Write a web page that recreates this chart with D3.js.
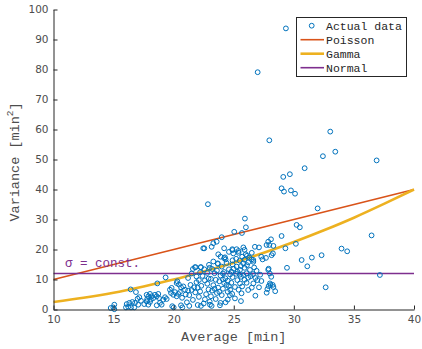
<!DOCTYPE html>
<html>
<head>
<meta charset="utf-8">
<script src="https://cdn.jsdelivr.net/npm/d3@7"></script>
<style>
  body { margin: 0; background: #fff; }
  svg { display: block; }
</style>
</head>
<body>
<figure id="chart" style="margin:0"></figure>
<script>
// observed points: average trip time [min] and its variance [min^2]
const avgMin = [
  33.03, 32.42, 33.45, 36.89, 30.9, 29.67, 29.12, 29.76, 30.1, 28.98, 29.18, 31.98, 30.23, 30.5,
  36.47, 30.17, 33.97, 34.44, 32.31, 31.5, 30.65, 31.12, 37.16, 32.65, 29.34, 26.99, 27.96,
  25.93, 26.01, 25.68, 28.98, 26.76, 27.1, 27.87, 28.1, 27.73, 27.96, 28.3, 28.26, 28.15, 27.68,
  27.29, 26.63, 27.9, 29.43, 28.12, 28.01, 28.24, 27.9, 27.74, 28.45, 29.3, 27.87, 28.06, 27.8, 28.3,
  22.85, 25.04, 23.58, 23.3, 23.16, 24.0, 22.55, 24.2, 24.9, 25.24, 23.68, 24.27, 21.83, 22.25,
  21.6, 22.46, 23.71, 24.88,
  14.76, 14.98, 15.06, 15.06, 16.03, 16.22, 16.45, 16.09, 16.31, 16.56, 16.78, 17.05, 16.72,
  16.42, 16.86, 17.0, 17.14, 17.28, 17.55, 17.75, 17.89, 18.03, 17.75, 17.89, 18.03, 18.17, 17.8,
  18.1, 18.3, 18.44, 18.59, 18.78, 18.72, 18.64, 18.59, 18.86, 19.0, 19.28, 19.14, 19.42, 19.33,
  19.69, 19.83, 19.78, 19.97, 20.11, 20.25, 20.38, 20.52, 20.25, 20.44, 20.61, 20.8, 20.94, 19.88,
  20.0, 20.61, 20.72, 20.3, 21.2,
  21.4, 21.5, 21.3, 21.6, 21.8, 21.7, 21.9, 21.5, 21.77, 22.27, 22.55, 22.0, 22.1, 22.2, 22.3, 22.1,
  22.4, 22.6, 22.7, 22.8, 22.9, 22.5, 22.94, 21.1, 21.0, 21.3, 22.9, 22.27, 23.02, 23.16,
  23.0, 23.1, 23.2, 23.3, 23.1, 23.4, 23.2, 23.5, 23.6, 23.66, 23.7, 23.8, 23.9, 23.6, 23.85, 24.0,
  24.1, 24.2, 24.3, 24.2, 24.0, 24.2, 24.32, 24.32, 24.5, 24.6, 24.5, 24.7, 24.6, 24.68, 24.87,
  24.8, 24.9, 24.8, 24.96, 24.9, 23.3, 24.5, 23.9, 24.4,
  25.24, 25.52, 26.07, 26.35, 25.79, 25.52, 26.07, 26.63, 26.96, 26.49, 26.63, 27.4, 25.65, 25.4,
  25.1, 25.3, 25.6, 25.2, 25.8, 25.9, 26.2, 26.4, 26.1, 25.5, 25.7, 26.0, 25.4, 26.3, 25.1, 25.7,
  26.2, 26.5, 26.8, 26.9, 26.7, 26.5, 25.9, 25.6, 27.1, 27.2, 26.8, 27.3, 28.0,
  21.9, 22.2, 22.6, 23.0, 23.4, 23.8, 24.1, 24.4, 24.7, 25.0, 25.3, 25.6, 25.9, 26.2, 25.4,
  25.8, 26.1, 24.6, 24.1, 23.5, 22.8, 22.0, 21.2, 20.7, 25.5, 25.9, 24.9, 23.9, 26.6, 25.2
];
const varMin2 = [
  59.3, 51.1, 52.6, 49.7, 47.1, 45.1, 44.2, 39.7, 38.6, 40.4, 39.3, 33.7, 28.2, 27.4,
  24.7, 21.9, 20.3, 19.4, 18.1, 17.3, 16.5, 14.4, 11.5, 7.4, 93.7, 79.1, 56.4,
  30.3, 27.4, 25.5, 24.5, 20.9, 20.7, 22.6, 23.4, 21.5, 21.5, 21.2, 18.7, 18.1, 17.2,
  17.6, 16.5, 13.6, 13.9, 10.9, 8.7, 8.2, 7.8, 5.6, 6.1, 20.4, 13.2, 8.2, 6.8, 7.5,
  35.1, 25.9, 22.6, 22.1, 20.9, 24.1, 20.4, 20.4, 19.8, 20.1, 15.2, 17.4, 14.1, 14.1,
  13.5, 20.4, 18.4, 20.1,
  0.5, 0.7, 0.1, 1.6, 0.7, 0.9, 0.7, 1.8, 2.2, 2.5, 2.2, 1.6, 0.7,
  6.7, 5.8, 3.6, 4.1, 2.9, 1.8, 2.7, 1.6, 2.5, 4.9, 4.4, 5.2, 4.4, 3.5,
  3.3, 3.8, 4.9, 4.4, 3.8, 5.2, 8.7, 1.4, 2.2, 1.6, 4.1, 3.3, 3.5, 10.7,
  6.6, 7.2, 5.5, 4.9, 5.8, 4.4, 5.2, 5.8, 8.8, 8.3, 7.4, 7.7, 6.6, 1.1,
  0.7, 1.4, 0.7, 9.4, 10.5,
  8.2, 6.5, 4.8, 3.2, 5.7, 7.4, 9.1, 12.0, 14.1, 14.1, 13.4, 1.5, 4.2, 6.0, 7.9, 9.8,
  11.2, 3.4, 5.1, 8.6, 10.3, 2.0, 14.9, 2.4, 5.0, 1.2, 6.7, 1.2, 1.6, 1.2,
  2.6, 4.4, 6.3, 8.1, 10.2, 12.1, 13.5, 3.5, 5.5, 15.4, 7.3, 9.4, 11.3, 13.0, 1.4, 4.8,
  6.9, 8.8, 10.4, 12.5, 14.3, 17.1, 16.7, 2.4, 5.9, 7.8, 9.6, 11.7, 13.4, 4.8, 5.2,
  8.9, 10.8, 12.6, 18.7, 15.0, 16.0, 3.3, 2.2, 15.5,
  14.3, 13.2, 12.1, 13.2, 15.4, 8.7, 8.9, 8.7, 9.8, 16.7, 15.9, 16.7, 5.4, 6.6,
  7.5, 9.8, 10.9, 11.9, 11.5, 9.9, 10.6, 11.1, 14.8, 16.3, 17.6, 18.4, 18.9, 17.3, 3.7, 7.7,
  6.5, 7.3, 10.5, 12.9, 14.0, 18.9, 19.9, 2.8, 7.4, 11.6, 4.6, 9.5, 12.0,
  11.0, 12.4, 9.7, 13.9, 6.9, 5.9, 12.0, 8.2, 6.6, 13.6, 12.6, 14.5, 16.6, 15.7, 19.5,
  20.7, 17.9, 19.2, 10.0, 9.9, 12.2, 7.3, 6.3, 3.9, 11.6, 13.9, 16.4, 17.6, 11.8, 16.9
];

// model curves
const poissonX = [10, 40];
const poissonY = [10, 40];
const gammaX = [10, 12.5, 15, 17.5, 20, 22.5, 25, 27.5, 30, 32.5, 35, 37.5, 40];
const gammaY = [2.5, 3.9, 5.6, 7.7, 10, 12.7, 15.6, 18.9, 22.5, 26.4, 30.6, 35.2, 40];
const normalX = [10, 40];
const normalY = [12, 12];

const xTicks = [10, 15, 20, 25, 30, 35, 40];
const yTicks = [0, 10, 20, 30, 40, 50, 60, 70, 80, 90, 100];
const legendNames = ["Actual data", "Poisson", "Gamma", "Normal"];

const width = 422, height = 349;
const plotLeft = 53.5, plotRight = 414, plotTop = 9.5, plotBottom = 309.5;
const mono = "'Courier New', 'Liberation Mono', monospace";

const svg = d3.select("#chart")
  .append("svg")
  .attr("width", width)
  .attr("height", height);

const x = d3.scaleLinear().domain([10, 40]).range([plotLeft, plotRight]);
const y = d3.scaleLinear().domain([0, 100]).range([plotBottom, plotTop]);

// data first, axes on top of it
const line = d3.line().x(d => x(d[0])).y(d => y(d[1]));

svg.append("path")
  .datum(d3.zip(poissonX, poissonY))
  .attr("d", line)
  .attr("fill", "none")
  .attr("stroke", "#D95319")
  .attr("stroke-width", 1.6);

svg.append("path")
  .datum(d3.zip(gammaX, gammaY))
  .attr("d", d3.line().x(d => x(d[0])).y(d => y(d[1])).curve(d3.curveMonotoneX))
  .attr("fill", "none")
  .attr("stroke", "#EDB120")
  .attr("stroke-width", 2.6);

svg.append("path")
  .datum(d3.zip(normalX, normalY))
  .attr("d", line)
  .attr("fill", "none")
  .attr("stroke", "#7E2F8E")
  .attr("stroke-width", 1.6);

svg.selectAll("circle.pt")
  .data(d3.zip(avgMin, varMin2))
  .enter()
  .append("circle")
  .attr("class", "pt")
  .attr("cx", d => x(d[0]))
  .attr("cy", d => y(d[1]))
  .attr("r", 2.4)
  .attr("fill", "none")
  .attr("stroke", "#0072BD")
  .attr("stroke-width", 1);

svg.append("text")
  .attr("x", x(10.95))
  .attr("y", y(15.6))
  .attr("dy", "0.35em")
  .attr("font-family", mono)
  .attr("font-size", 12.5)
  .attr("fill", "#7E2F8E")
  .text("σ = const.");

// axes
const xAxis = svg.append("g")
  .attr("transform", "translate(0," + plotBottom + ")")
  .call(d3.axisBottom(x).tickValues(xTicks).tickSizeInner(-4).tickSizeOuter(0).tickPadding(6.5));

const yAxis = svg.append("g")
  .attr("transform", "translate(" + plotLeft + ",0)")
  .call(d3.axisLeft(y).tickValues(yTicks).tickSizeInner(-4).tickSizeOuter(0).tickPadding(5));

[xAxis, yAxis].forEach(g => {
  g.select(".domain").attr("stroke", "#262626");
  g.selectAll(".tick line").attr("stroke", "#262626");
  g.selectAll(".tick text")
    .attr("fill", "#4d4d4d")
    .attr("font-family", "'DejaVu Sans', sans-serif")
    .attr("font-size", 10.5);
});

svg.append("text")
  .attr("x", (plotLeft + plotRight) / 2)
  .attr("y", 341)
  .attr("text-anchor", "middle")
  .attr("font-family", mono)
  .attr("font-size", 13.5)
  .attr("fill", "#4d4d4d")
  .text("Average [min]");

const yLab = svg.append("text")
  .attr("transform", "translate(19," + 162 + ") rotate(-90)")
  .attr("text-anchor", "middle")
  .attr("font-family", mono)
  .attr("font-size", 13.5)
  .attr("fill", "#4d4d4d");
yLab.append("tspan").text("Variance [min");
yLab.append("tspan").attr("dy", -6).attr("font-size", 9.5).text("2");
yLab.append("tspan").attr("dy", 6).text("]");

// legend
const lg = svg.append("g");
lg.append("rect")
  .attr("x", 296.5)
  .attr("y", 17.5)
  .attr("width", 110)
  .attr("height", 59)
  .attr("fill", "#fff")
  .attr("stroke", "#262626")
  .attr("stroke-width", 1);

const legendColors = ["#0072BD", "#D95319", "#EDB120", "#7E2F8E"];
const legendWidths = [1, 1.6, 2.6, 1.6];

legendNames.forEach((name, i) => {
  const ly = 25.7 + i * 14;
  if (i === 0) {
    lg.append("circle")
      .attr("cx", 311.7).attr("cy", ly).attr("r", 2.4)
      .attr("fill", "none").attr("stroke", legendColors[i]).attr("stroke-width", 1);
  } else {
    lg.append("line")
      .attr("x1", 300.5).attr("x2", 324).attr("y1", ly).attr("y2", ly)
      .attr("stroke", legendColors[i]).attr("stroke-width", legendWidths[i]);
  }
  lg.append("text")
    .attr("x", 326)
    .attr("y", ly)
    .attr("dy", "0.35em")
    .attr("font-family", mono)
    .attr("font-size", 11.5)
    .attr("fill", "#262626")
    .text(name);
});
</script>
</body>
</html>
